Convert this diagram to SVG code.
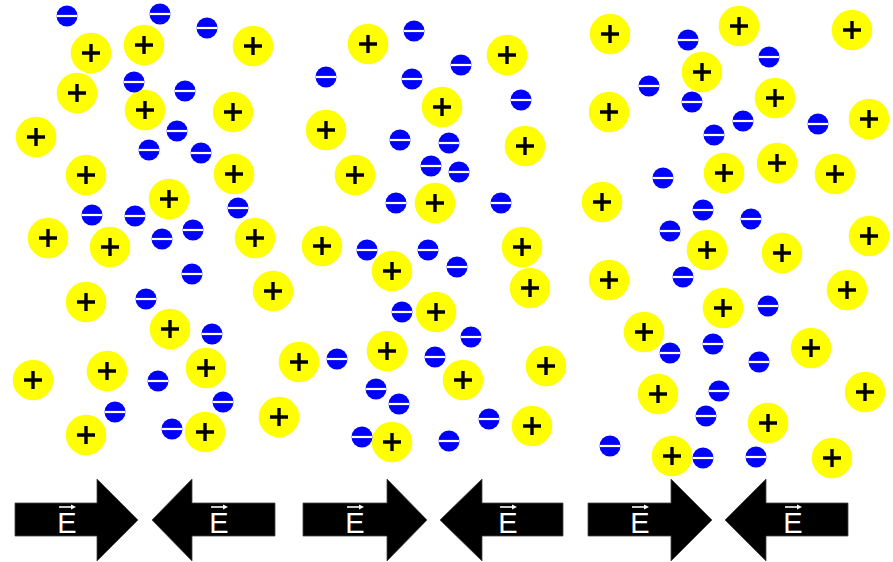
<svg xmlns="http://www.w3.org/2000/svg" xmlns:xlink="http://www.w3.org/1999/xlink" width="893" height="562" viewBox="0 0 893 562">
<style>
.y{fill:#ffff00}
.pl{stroke:#000;stroke-width:3.4;fill:none}
.b{fill:#0000ff}
.ml{fill:#fff}
.ar{fill:#000;stroke:#444;stroke-width:0.8}
.e{fill:#fff;font-family:"Liberation Sans",Arial,sans-serif;font-size:29px;text-anchor:middle}
.ev{stroke:#fff;stroke-width:1.6;fill:none}
</style>
<defs>
<g id="pos"><circle r="20.3" class="y"/><path d="M-9,0H9M0,-9V9" class="pl"/></g>
<g id="neg"><circle r="10.5" class="b"/><rect x="-10.3" y="-1.1" width="20.6" height="2.2" class="ml"/></g>
<g id="vec"><path d="M-8,0H7" class="ev"/><path d="M9,0L4,-2.5V2.5Z" fill="#fff"/></g>
</defs>
<rect width="893" height="562" fill="#fff"/>
<g id="positive-ions">
<use href="#pos" x="91" y="53"/><use href="#pos" x="144" y="45"/><use href="#pos" x="253" y="46"/><use href="#pos" x="77" y="93"/><use href="#pos" x="145" y="110"/><use href="#pos" x="233" y="112"/><use href="#pos" x="36" y="137"/><use href="#pos" x="86" y="175"/><use href="#pos" x="234" y="174"/><use href="#pos" x="169" y="199"/><use href="#pos" x="48" y="238"/><use href="#pos" x="110" y="247"/><use href="#pos" x="255" y="238"/><use href="#pos" x="273" y="291"/><use href="#pos" x="86" y="302"/><use href="#pos" x="170" y="329"/><use href="#pos" x="33" y="380"/><use href="#pos" x="107" y="371"/><use href="#pos" x="206" y="368"/><use href="#pos" x="279" y="417"/><use href="#pos" x="86" y="435"/><use href="#pos" x="205" y="432"/>
<use href="#pos" x="368" y="44"/><use href="#pos" x="507" y="55"/><use href="#pos" x="442" y="107"/><use href="#pos" x="326" y="130"/><use href="#pos" x="525" y="146"/><use href="#pos" x="355" y="175"/><use href="#pos" x="435" y="203"/><use href="#pos" x="322" y="246"/><use href="#pos" x="522" y="247"/><use href="#pos" x="392" y="271"/><use href="#pos" x="530" y="288"/><use href="#pos" x="436" y="312"/><use href="#pos" x="387" y="351"/><use href="#pos" x="299" y="362"/><use href="#pos" x="463" y="380"/><use href="#pos" x="546" y="366"/><use href="#pos" x="532" y="426"/><use href="#pos" x="392" y="442"/>
<use href="#pos" x="610" y="34"/><use href="#pos" x="739" y="26"/><use href="#pos" x="852" y="30"/><use href="#pos" x="702" y="72"/><use href="#pos" x="609" y="112"/><use href="#pos" x="775" y="98"/><use href="#pos" x="869" y="119"/><use href="#pos" x="724" y="173"/><use href="#pos" x="777" y="163"/><use href="#pos" x="835" y="174"/><use href="#pos" x="602" y="202"/><use href="#pos" x="707" y="250"/><use href="#pos" x="782" y="253"/><use href="#pos" x="869" y="236"/><use href="#pos" x="609" y="280"/><use href="#pos" x="723" y="308"/><use href="#pos" x="847" y="290"/><use href="#pos" x="644" y="332"/><use href="#pos" x="811" y="348"/><use href="#pos" x="658" y="394"/><use href="#pos" x="865" y="392"/><use href="#pos" x="768" y="423"/><use href="#pos" x="672" y="456"/><use href="#pos" x="832" y="458"/>
</g>
<g id="electrons">
<use href="#neg" x="67" y="16"/><use href="#neg" x="160" y="14"/><use href="#neg" x="207" y="28"/><use href="#neg" x="134" y="82"/><use href="#neg" x="185" y="91"/><use href="#neg" x="177" y="131"/><use href="#neg" x="149" y="150"/><use href="#neg" x="201" y="153"/><use href="#neg" x="92" y="215"/><use href="#neg" x="135" y="216"/><use href="#neg" x="238" y="208"/><use href="#neg" x="162" y="239"/><use href="#neg" x="193" y="230"/><use href="#neg" x="192" y="274"/><use href="#neg" x="146" y="299"/><use href="#neg" x="212" y="334"/><use href="#neg" x="158" y="381"/><use href="#neg" x="223" y="402"/><use href="#neg" x="115" y="412"/><use href="#neg" x="172" y="429"/>
<use href="#neg" x="414" y="31"/><use href="#neg" x="461" y="65"/><use href="#neg" x="326" y="77"/><use href="#neg" x="412" y="79"/><use href="#neg" x="521" y="100"/><use href="#neg" x="400" y="140"/><use href="#neg" x="449" y="143"/><use href="#neg" x="431" y="166"/><use href="#neg" x="459" y="172"/><use href="#neg" x="396" y="203"/><use href="#neg" x="501" y="203"/><use href="#neg" x="367" y="250"/><use href="#neg" x="428" y="250"/><use href="#neg" x="457" y="267"/><use href="#neg" x="402" y="312"/><use href="#neg" x="471" y="337"/><use href="#neg" x="337" y="359"/><use href="#neg" x="435" y="357"/><use href="#neg" x="376" y="389"/><use href="#neg" x="399" y="404"/><use href="#neg" x="489" y="419"/><use href="#neg" x="362" y="437"/><use href="#neg" x="449" y="441"/>
<use href="#neg" x="688" y="40"/><use href="#neg" x="769" y="57"/><use href="#neg" x="649" y="86"/><use href="#neg" x="692" y="102"/><use href="#neg" x="743" y="121"/><use href="#neg" x="818" y="124"/><use href="#neg" x="714" y="135"/><use href="#neg" x="663" y="178"/><use href="#neg" x="703" y="210"/><use href="#neg" x="751" y="219"/><use href="#neg" x="670" y="231"/><use href="#neg" x="683" y="277"/><use href="#neg" x="768" y="306"/><use href="#neg" x="670" y="353"/><use href="#neg" x="713" y="344"/><use href="#neg" x="759" y="362"/><use href="#neg" x="719" y="391"/><use href="#neg" x="706" y="416"/><use href="#neg" x="610" y="446"/><use href="#neg" x="703" y="458"/><use href="#neg" x="756" y="457"/>
</g>
<g id="field-arrows">
<polygon class="ar" points="15,503 97,503 97,479 138,520 97,561 97,536 15,536"/>
<polygon class="ar" points="275,503 192,503 192,479 152,520 192,561 192,536 275,536"/>
<polygon class="ar" points="303,503 387,503 387,479 427,520 387,561 387,536 303,536"/>
<polygon class="ar" points="563,503 482,503 482,479 440,520 482,561 482,536 563,536"/>
<polygon class="ar" points="588,503 671,503 671,479 712,520 671,561 671,536 588,536"/>
<polygon class="ar" points="848,503 766,503 766,479 725,520 766,561 766,536 848,536"/>
<text class="e" x="67" y="533">E</text><use href="#vec" x="67" y="507"/>
<text class="e" x="219" y="533">E</text><use href="#vec" x="219" y="507"/>
<text class="e" x="355" y="533">E</text><use href="#vec" x="355" y="507"/>
<text class="e" x="508" y="533">E</text><use href="#vec" x="508" y="507"/>
<text class="e" x="640" y="533">E</text><use href="#vec" x="640" y="507"/>
<text class="e" x="793" y="533">E</text><use href="#vec" x="793" y="507"/>
</g>
</svg>
